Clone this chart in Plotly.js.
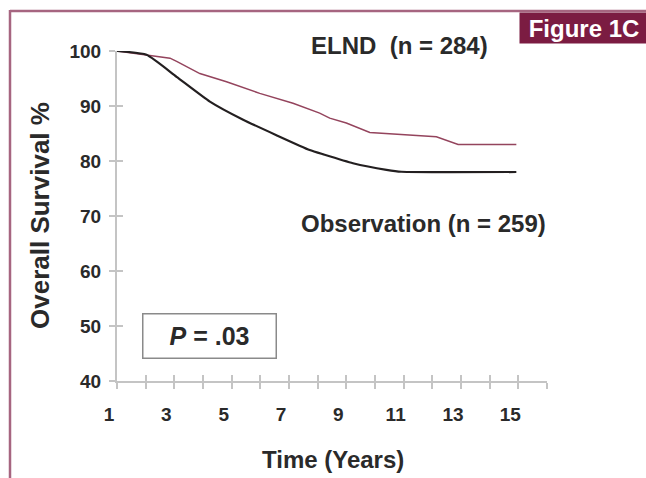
<!DOCTYPE html>
<html>
<head>
<meta charset="utf-8">
<script src="https://cdn.plot.ly/plotly-3.0.1.min.js"></script>
<style>html,body{margin:0;padding:0;background:#fff;}#chart{width:646px;height:478px;}</style>
</head>
<body>
<div id="chart"></div>
<script>
// Data
var timeObs = [1, 2.03, 3.08, 4.24, 5.40, 6.56, 7.72, 8.2, 9.23, 10.4, 10.92, 14.93];
var survObs = [100, 99.3, 95.3, 90.8, 87.5, 84.7, 82.0, 81.2, 79.6, 78.4, 78.05, 78.0];
var timeElnd = [1, 2.03, 2.85, 3.08, 3.89, 4.82, 5.98, 7.14, 8.07, 8.42, 9.0, 9.82, 12.14, 12.9, 14.93];
var survElnd = [100, 99.3, 98.7, 98.1, 95.9, 94.4, 92.3, 90.5, 88.7, 87.8, 86.9, 85.2, 84.4, 83.0, 83.0];
var xTickVals = [1,2,3,4,5,6,7,8,9,10,11,12,13,14,15,16];
var xTickText = ["1","","3","","5","","7","","9","","11","","13","","15",""];
var yTickVals = [40,50,60,70,80,90,100];
var labelElnd = "ELND  (n = 284)";
var labelObs = "Observation (n = 259)";
var pText = "<i>P</i> = .03";

var FONT = "Arial, 'Liberation Sans', sans-serif";
var axisGray = "#c4c4c4";

var traces = [
  {x: timeElnd, y: survElnd, type: "scatter", mode: "lines", cliponaxis: false,
   line: {color: "#94445d", width: 1.5}, hoverinfo: "skip"},
  {x: timeObs, y: survObs, type: "scatter", mode: "lines", cliponaxis: false,
   line: {color: "#231f20", width: 2.2, shape: "spline", smoothing: 0.5}, hoverinfo: "skip"},
  {x: [], y: [], xaxis: "x2", yaxis: "y2", type: "scatter", mode: "lines", hoverinfo: "skip"}
];

var L = 117, R = 547, T = 51, B = 381, W = 646, H = 478;
function px(x){ return (x - L) / (R - L); }
function py(y){ return (B - y) / (B - T); }

var layout = {
  width: W, height: H,
  margin: {l: L, r: W - R, t: T, b: H - B, pad: 0},
  paper_bgcolor: "#ffffff", plot_bgcolor: "#ffffff",
  showlegend: false,
  font: {family: FONT, color: "#2a2a2a"},
  xaxis: {range: [1, 16], tickmode: "array", tickvals: xTickVals, ticktext: xTickText,
    ticks: "outside", ticklen: 6, tickwidth: 2, tickcolor: axisGray,
    showline: true, linecolor: axisGray, linewidth: 2, showgrid: false, zeroline: false,
    ticklabelshift: -8, ticklabelstandoff: 9,
    tickfont: {family: FONT, size: 19, color: "#2a2a2a", weight: "bold"}},
  yaxis: {range: [40, 100], tickmode: "array", tickvals: yTickVals,
    ticks: "outside", ticklen: 6, tickwidth: 2, tickcolor: axisGray,
    showline: true, linecolor: axisGray, linewidth: 2, showgrid: false, zeroline: false,
    ticklabelstandoff: 4,
    tickfont: {family: FONT, size: 19, color: "#2a2a2a", weight: "bold"}},
  xaxis2: {overlaying: "x", anchor: "y", range: [1, 16], tickmode: "array", tickvals: xTickVals,
    ticks: "inside", ticklen: 6, tickwidth: 2, tickcolor: axisGray, showticklabels: false,
    showline: false, showgrid: false, zeroline: false},
  yaxis2: {overlaying: "y", anchor: "x", range: [40, 100], tickmode: "array", tickvals: yTickVals,
    ticks: "inside", ticklen: 6, tickwidth: 2, tickcolor: axisGray, showticklabels: false,
    showline: false, showgrid: false, zeroline: false},
  shapes: [
    {type: "line", xref: "paper", yref: "paper", x0: px(10), x1: px(646), y0: py(11), y1: py(11),
     line: {color: "#a66580", width: 2.5}},
    {type: "line", xref: "paper", yref: "paper", x0: px(10), x1: px(10), y0: py(10), y1: py(478),
     line: {color: "#a66580", width: 2.5}}
  ],
  annotations: [
    {text: labelElnd, xref: "paper", yref: "paper", x: px(399), y: py(45), showarrow: false,
     xanchor: "center", yanchor: "middle", font: {family: FONT, size: 24, color: "#2a2a2a", weight: "bold"}},
    {text: labelObs, xref: "paper", yref: "paper", x: px(423), y: py(224), showarrow: false,
     xanchor: "center", yanchor: "middle", font: {family: FONT, size: 24, color: "#2a2a2a", weight: "bold"}},
    {text: pText, xref: "paper", yref: "paper", x: px(209), y: py(336), showarrow: false,
     xanchor: "center", yanchor: "middle", width: 130, height: 41, borderwidth: 1.5, bordercolor: "#8a8a8a",
     bgcolor: "#ffffff", font: {family: FONT, size: 25, color: "#2a2a2a", weight: "bold"}},
    {text: "Figure 1C", xref: "paper", yref: "paper", x: px(584), y: py(28), showarrow: false,
     xanchor: "center", yanchor: "middle", width: 126, height: 28, bgcolor: "#7b1c42",
     font: {family: FONT, size: 24, color: "#ffffff", weight: "bold"}},
    {text: "Overall Survival %", xref: "paper", yref: "paper", x: px(40), y: py(216), showarrow: false,
     textangle: -90, xanchor: "center", yanchor: "middle",
     font: {family: FONT, size: 26, color: "#2a2a2a", weight: "bold"}},
    {text: "Time (Years)", xref: "paper", yref: "paper", x: px(333), y: py(460), showarrow: false,
     xanchor: "center", yanchor: "middle",
     font: {family: FONT, size: 24, color: "#2a2a2a", weight: "bold"}}
  ]
};

Plotly.newPlot("chart", traces, layout, {staticPlot: true, displayModeBar: false});
</script>
</body>
</html>
